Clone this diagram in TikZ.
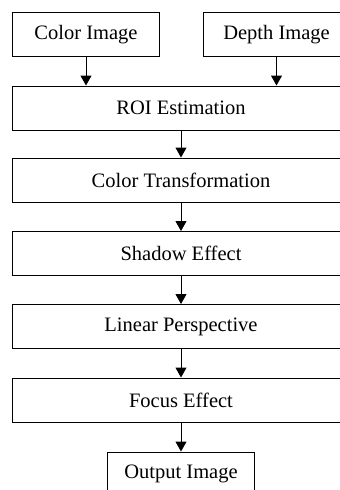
\documentclass[tikz,border=0pt]{standalone}
\usepackage{fontspec}
\setmainfont{Liberation Serif}
\usetikzlibrary{arrows.meta}
\begin{document}
\begin{tikzpicture}[x=1pt,y=-1pt,
  box/.style={draw, line width=1pt, minimum height=44pt, inner sep=0pt, font=\fontsize{20.5}{24}\selectfont},
  wide/.style={box, minimum width=338pt},
  small/.style={box, minimum width=147pt},
  arr/.style={-{Triangle[width=11pt,length=10pt]}, line width=1pt}]
\path[use as bounding box] (0,0) rectangle (340,490);
\clip (0,0) rectangle (340,490);
\node[small] (color) at (86,34.5) {Color Image};
\node[small] (depth) at (276.5,34.5) {Depth Image};
\node[wide] (roi) at (181,108) {ROI Estimation};
\node[wide] (ct) at (181,180) {Color Transformation};
\node[wide] (sh) at (181,253.5) {Shadow Effect};
\node[wide] (lp) at (181,326.5) {Linear Perspective};
\node[wide] (fe) at (181,400) {Focus Effect};
\node[small] (out) at (181,474) {Output Image};
\draw[arr] (color.south) -- (color.south |- roi.north);
\draw[arr] (depth.south) -- (depth.south |- roi.north);
\draw[arr] (roi) -- (ct);
\draw[arr] (ct) -- (sh);
\draw[arr] (sh) -- (lp);
\draw[arr] (lp) -- (fe);
\draw[arr] (fe) -- (out);
\end{tikzpicture}
\end{document}
